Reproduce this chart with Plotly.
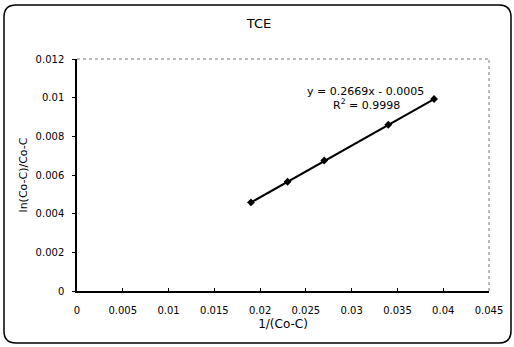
import plotly.graph_objects as go

x_vals = [0.019, 0.023, 0.027, 0.034, 0.039]
y_vals = [0.00458, 0.00565, 0.00675, 0.0086, 0.00993]
x_ticks = [0, 0.005, 0.01, 0.015, 0.02, 0.025, 0.03, 0.035, 0.04, 0.045]
x_tick_text = ["0", "0.005", "0.01", "0.015", "0.02", "0.025", "0.03", "0.035", "0.04", "0.045"]
y_ticks = [0, 0.002, 0.004, 0.006, 0.008, 0.01, 0.012]
y_tick_text = ["0", "0.002", "0.004", "0.006", "0.008", "0.01", "0.012"]

FONT = "DejaVu Sans, Liberation Sans, Arial, sans-serif"

fig = go.Figure()
fig.add_trace(go.Scatter(
    x=x_vals, y=y_vals, mode="lines+markers",
    line=dict(color="black", width=2),
    marker=dict(symbol="diamond", size=6, color="black"),
    showlegend=False, hoverinfo="skip"))

L, R, T, B = 77, 25, 59, 56
W, H = 514, 347
pw, ph = W - L - R, H - T - B

def px(xp):
    return (xp - L) / pw

def py(yp):
    return (H - B - yp) / ph

x0, x1 = px(4), px(511)
y0, y1 = py(343), py(5)
rx, ry = 12 / pw, 12 / ph
path = (f"M {x0+rx},{y1} L {x1-rx},{y1} Q {x1},{y1} {x1},{y1-ry} "
        f"L {x1},{y0+ry} Q {x1},{y0} {x1-rx},{y0} "
        f"L {x0+rx},{y0} Q {x0},{y0} {x0},{y0+ry} "
        f"L {x0},{y1-ry} Q {x0},{y1} {x0+rx},{y1} Z")

fig.update_layout(
    width=W, height=H,
    margin=dict(l=L, r=R, t=T, b=B),
    paper_bgcolor="white", plot_bgcolor="white",
    font=dict(family=FONT, size=10, color="black"),
    title=dict(text="TCE", x=259 / W, xanchor="center", y=1 - 23 / H, yanchor="middle",
               font=dict(size=13, family=FONT)),
    xaxis=dict(range=[0, 0.045], tickvals=x_ticks, ticktext=x_tick_text,
               showgrid=False, zeroline=False, showline=True, linecolor="black", linewidth=1.5,
               ticks="inside", ticklen=3, tickcolor="black", ticklabelstandoff=9,
               title=dict(text="1/(Co-C)", font=dict(size=12), standoff=5)),
    yaxis=dict(range=[0, 0.012], tickvals=y_ticks, ticktext=y_tick_text,
               showgrid=False, zeroline=False, showline=True, linecolor="black", linewidth=1.5,
               ticks="outside", ticklen=3, tickcolor="black", ticklabelstandoff=6,
               title=dict(text="ln(Co-C)/Co-C", font=dict(size=11), standoff=6)),
    shapes=[
        dict(type="path", xref="paper", yref="paper", path=path,
             line=dict(color="black", width=1.5)),
        dict(type="line", xref="paper", yref="paper", x0=0, x1=1, y0=1, y1=1,
             line=dict(color="#777", width=1, dash="dot")),
        dict(type="line", xref="paper", yref="paper", x0=1, x1=1, y0=0, y1=1,
             line=dict(color="#777", width=1, dash="dot")),
    ],
    annotations=[
        dict(text="y = 0.2669x - 0.0005", xref="paper", yref="paper",
             x=px(365), y=py(91), showarrow=False, xanchor="center", yanchor="middle",
             font=dict(size=11)),
        dict(text="R<sup>2</sup> = 0.9998", xref="paper", yref="paper",
             x=px(366), y=py(104), showarrow=False, xanchor="center", yanchor="middle",
             font=dict(size=11)),
    ],
)

fig.write_html("out.html", config={"displayModeBar": False},
               post_script="document.body.style.margin='0';")
